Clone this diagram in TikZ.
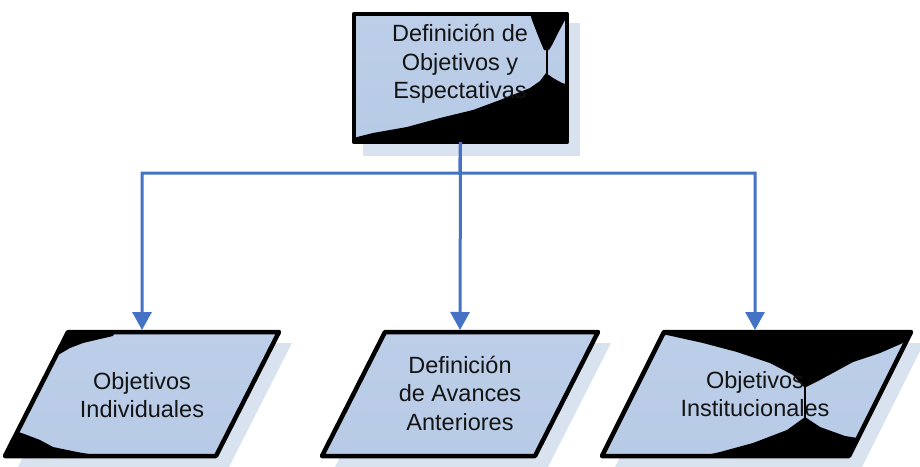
\documentclass[tikz,border=0pt]{standalone}
\usepackage{fontspec}
\setmainfont{Liberation Sans}
\usetikzlibrary{arrows.meta,calc}
\definecolor{conncol}{RGB}{68,114,196}
\definecolor{shadowcol}{RGB}{217,226,239}
\definecolor{fillA}{RGB}{188,206,232}
\definecolor{fillB}{RGB}{212,225,241}
\definecolor{fillC}{RGB}{184,203,230}
\tikzset{
  shapeborder/.style={draw=black,line width=4.5pt,line join=round},
  shapeshadow/.style={fill=shadowcol,draw=none},
  shapefill/.style={top color=fillA,middle color=fillB,bottom color=fillC,draw=none},
  artefact/.style={fill=black,draw=none},
  label/.style={font=\fontsize{23.5}{28.5}\selectfont,align=center,text=black!92,inner sep=0pt},
  conn/.style={draw=conncol,line width=3pt,-{Triangle[width=19pt,length=18pt]}},
}
\begin{document}
\begin{tikzpicture}[x=1pt,y=-1pt]
\path[use as bounding box] (0,0) rectangle (920,466);
% ---------- top box ----------
\fill[shapeshadow] (363,23) rectangle (580,156);
\node[minimum width=213pt,minimum height=128pt,inner sep=0pt,outer sep=0pt] (top) at (460.5,78) {};
\shade[shapefill] (top.south west) rectangle (top.north east);
\begin{scope}
  \clip (top.south west) rectangle (top.north east);
  \fill[artefact] (529,10) -- (532,20) -- (537,33) -- (541,43) -- (544,50) -- (549,50)
     -- (552,45) -- (558,33) -- (565,20) -- (572,10) -- cycle;
  \draw[line width=2pt] (546.5,48) -- (546.5,76);
  \fill[artefact] (350,141) -- (357,137) -- (373,133) -- (407,127) -- (440,118) -- (473,110)
     -- (500,100) -- (520,92) -- (530,88) -- (540,81) -- (546,73) -- (553,78) -- (562,83)
     -- (570,85) -- (570,150) -- (350,150) -- cycle;
\end{scope}
\draw[shapeborder] (top.south west) rectangle (top.north east);
\node[label] (toptext) at (460,64) {Definición de\\Objetivos y\\Espectativas};
% ---------- left parallelogram ----------
\coordinate (LTL) at (68,332); \coordinate (LTR) at (279,332);
\coordinate (LBR) at (216,456); \coordinate (LBL) at (5,456);
\fill[shapeshadow] ($(LTL)+(13,11)$) -- ($(LTR)+(13,11)$) -- ($(LBR)+(13,11)$) -- ($(LBL)+(13,11)$) -- cycle;
\shade[shapefill] (LTL) -- (LTR) -- (LBR) -- (LBL) -- cycle;
\begin{scope}
  \clip (LTL) -- (LTR) -- (LBR) -- (LBL) -- cycle;
  \fill[artefact] (60,325) -- (118,325) -- (113,336) -- (100,339) -- (83,343) -- (70,348)
     -- (58,355) -- (40,362) -- cycle;
  \fill[artefact] (0,425) -- (13,430) -- (27,435) -- (40,440) -- (53,447) -- (77,452)
     -- (95,455) -- (100,465) -- (0,465) -- cycle;
\end{scope}
\draw[shapeborder] (LTL) -- (LTR) -- (LBR) -- (LBL) -- cycle;
\node[label] (lefttext) at (142,395) {Objetivos\\Individuales};
\coordinate (tgtL) at (142,330);
% ---------- middle parallelogram ----------
\coordinate (MTL) at (385,332); \coordinate (MTR) at (598,332);
\coordinate (MBR) at (535,456); \coordinate (MBL) at (322,456);
\fill[shapeshadow] ($(MTL)+(13,11)$) -- ($(MTR)+(13,11)$) -- ($(MBR)+(13,11)$) -- ($(MBL)+(13,11)$) -- cycle;
\shade[shapefill] (MTL) -- (MTR) -- (MBR) -- (MBL) -- cycle;
\draw[shapeborder] (MTL) -- (MTR) -- (MBR) -- (MBL) -- cycle;
\node[label] (midtext) at (460,393) {Definición\\de Avances\\Anteriores};
\coordinate (tgtM) at (460,330);
% ---------- right parallelogram ----------
\coordinate (RTL) at (664,332); \coordinate (RTR) at (911,332);
\coordinate (RBR) at (849,456); \coordinate (RBL) at (602,456);
\fill[shapeshadow] ($(RTL)+(13,11)$) -- ($(RTR)+(13,11)$) -- ($(RBR)+(13,11)$) -- ($(RBL)+(13,11)$) -- cycle;
\shade[shapefill] (RTL) -- (RTR) -- (RBR) -- (RBL) -- cycle;
\begin{scope}
  \clip (RTL) -- (RTR) -- (RBR) -- (RBL) -- cycle;
  \fill[artefact] (655,320) -- (920,320) -- (920,340) -- (903,343) -- (880,353) -- (853,362)
     -- (820,380) -- (806,387) -- (804,387) -- (793,375) -- (770,363) -- (737,352)
     -- (703,343) -- (667,335) -- (655,335) -- cycle;
  \draw[line width=2pt] (805,384) -- (805,420);
  \fill[artefact] (700,465) -- (707,455) -- (720,452) -- (753,443) -- (787,430) -- (805,417)
     -- (820,427) -- (845,436) -- (870,440) -- (870,465) -- cycle;
\end{scope}
\draw[shapeborder] (RTL) -- (RTR) -- (RBR) -- (RBL) -- cycle;
\node[label] (righttext) at (755,394) {Objetivos\\Institucionales};
\coordinate (tgtR) at (755,330);
% ---------- connectors ----------
\coordinate (split) at (460,173);
\draw[conn] (top.south) -- (tgtM);
\draw[conn] (top.south) -- (split) -| (tgtL);
\draw[conn] (top.south) -- (split) -| (tgtR);
\end{tikzpicture}
\end{document}
